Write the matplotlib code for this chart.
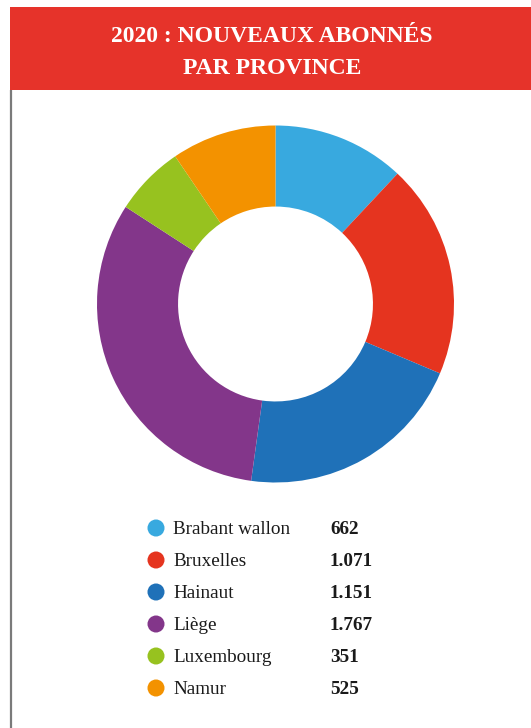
import matplotlib.pyplot as plt
from matplotlib.patches import Rectangle

plt.rcParams["font.family"] = ["Liberation Serif", "DejaVu Serif"]

# Nouveaux abonnés 2020 par province
provinces = ["Brabant wallon", "Bruxelles", "Hainaut", "Liège", "Luxembourg", "Namur"]
abonnes = [662, 1071, 1151, 1767, 351, 525]
couleurs = ["#38A9DF", "#E5341F", "#1F71B8", "#83368A", "#97C21F", "#F39200"]
titre = "2020 : NOUVEAUX ABONNÉS\nPAR PROVINCE"

W, H = 531, 728
fig = plt.figure(figsize=(W / 100, H / 100), dpi=100)

# calque de fond en pixels : bandeau titre, filet gauche, légende
bg = fig.add_axes([0, 0, 1, 1])
bg.set_xlim(0, W)
bg.set_ylim(H, 0)
bg.axis("off")

bg.add_patch(Rectangle((10, 7), W - 10, 83, facecolor="#E6332A", edgecolor="none"))
bg.plot([11, 11], [90, H], color="#7A7A7A", lw=1.6, solid_capstyle="butt")
bg.text(272, 52.5, titre, ha="center", va="center", color="white",
        fontsize=17.0, fontweight="bold", linespacing=1.65)


def fmt(v):
    # séparateur de milliers à la belge
    return f"{v:,}".replace(",", ".")


for i, (nom, val, c) in enumerate(zip(provinces, abonnes, couleurs)):
    y = 528 + 32 * i
    bg.scatter([156], [y], s=150, color=c, edgecolors="none")
    bg.text(173, y + 6, nom, ha="left", va="baseline", fontsize=13.8, color="#1A1A1A")
    bg.text(330, y + 6, fmt(val), ha="left", va="baseline", fontsize=13.8,
            fontweight="bold", color="#1A1A1A")

# anneau
cx, cy, r = 275.5, 304, 178.5
ax = fig.add_axes([(cx - r) / W, (H - cy - r) / H, 2 * r / W, 2 * r / H])
ax.pie(abonnes, colors=couleurs, startangle=90, counterclock=False, radius=1,
       wedgeprops=dict(width=0.454, edgecolor="none"))
ax.set_xlim(-1, 1)
ax.set_ylim(-1, 1)
ax.axis("off")

fig.savefig("out.png", dpi=100)
